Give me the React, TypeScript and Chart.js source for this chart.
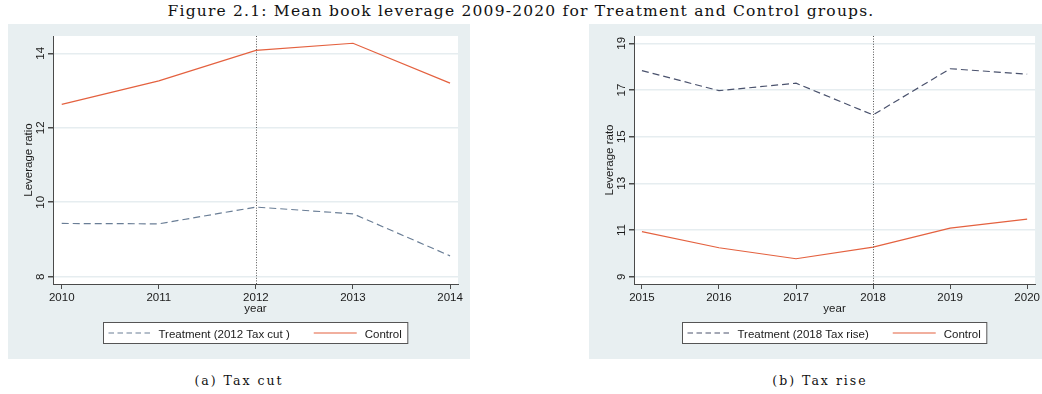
import React, { useEffect, useRef } from "react";
import { Chart, registerables } from "chart.js";

Chart.register(...registerables);

// ---------- data ----------
const cutYears = [2010, 2011, 2012, 2013, 2014];
const cutTreatment = [9.43, 9.42, 9.87, 9.69, 8.56];
const cutControl = [12.63, 13.26, 14.08, 14.27, 13.2];
const cutYTicks = [8, 10, 12, 14];

const riseYears = [2015, 2016, 2017, 2018, 2019, 2020];
const riseTreatment = [17.83, 16.97, 17.29, 15.93, 17.91, 17.68];
const riseControl = [10.93, 10.24, 9.77, 10.27, 11.08, 11.47];
const riseYTicks = [9, 11, 13, 15, 17, 19];

const figureTitle =
  "Figure 2.1: Mean book leverage 2009-2020 for Treatment and Control groups.";

// ---------- styles ----------
const BG = "#e8eff1";
const GRID = "#e6edf0";
const AXIS = "#4a4a4a";
const TEXT = "#1a1a1a";
const CONTROL = "#e4613f";
const SANS = '"Liberation Sans", Arial, Helvetica, sans-serif';
const SERIF = '"DejaVu Serif", "Liberation Serif", serif';
const FS = 11.5;

type PanelProps = {
  years: number[];
  treatment: number[];
  control: number[];
  yTicks: number[];
  xMin: number;
  xMax: number;
  yMin: number;
  yMax: number;
  eventYear: number;
  treatLabel: string;
  treatColor: string;
  yTitle: string;
  width: number;
  height: number;
  rightPad: number;
};

function Panel(p: PanelProps) {
  const ref = useRef<HTMLCanvasElement | null>(null);
  useEffect(() => {
    if (!ref.current) return;
    const panelPlugin = {
      id: "stataPanel",
      beforeDraw(chart: any) {
        const { ctx, chartArea: ca, width, height } = chart;
        ctx.save();
        ctx.fillStyle = BG;
        ctx.fillRect(0, 0, width, height);
        ctx.fillStyle = "#ffffff";
        ctx.fillRect(ca.left, ca.top, ca.right - ca.left, ca.bottom - ca.top);
        ctx.restore();
      },
      afterDraw(chart: any) {
        const { ctx, chartArea: ca } = chart;
        const xs = chart.scales.x;
        const ys = chart.scales.y;
        ctx.save();
        // event line
        const ex = Math.round(xs.getPixelForValue(p.eventYear)) + 0.5;
        ctx.strokeStyle = "#555555";
        ctx.lineWidth = 1;
        ctx.setLineDash([1, 1.6]);
        ctx.beginPath();
        ctx.moveTo(ex, ca.top);
        ctx.lineTo(ex, ca.bottom);
        ctx.stroke();
        ctx.setLineDash([]);

        // y tick labels (rotated)
        ctx.fillStyle = TEXT;
        ctx.font = `${FS}px ${SANS}`;
        ctx.textAlign = "center";
        ctx.textBaseline = "alphabetic";
        for (const v of p.yTicks) {
          const y = ys.getPixelForValue(v);
          ctx.save();
          ctx.translate(ca.left - 9, y);
          ctx.rotate(-Math.PI / 2);
          ctx.fillText(String(v), 0, 0);
          ctx.restore();
        }
        // y title
        ctx.save();
        ctx.translate(ca.left - 21.5, (ca.top + ca.bottom) / 2);
        ctx.rotate(-Math.PI / 2);
        ctx.fillText(p.yTitle, 0, 0);
        ctx.restore();
        // x title
        const cx = (ca.left + ca.right) / 2;
        ctx.fillText("year", cx, ca.bottom + 28);

        // legend
        const w1 = ctx.measureText(p.treatLabel).width;
        const w2 = ctx.measureText("Control").width;
        const W = 5 + 44 + 6 + w1 + 24 + 43 + 8 + w2 + 6;
        const bx = Math.round(cx - W / 2) + 0.5;
        const by = ca.bottom + 38.5;
        const bh = 21;
        ctx.fillStyle = "#ffffff";
        ctx.fillRect(bx, by, W, bh);
        ctx.strokeStyle = "#555555";
        ctx.lineWidth = 1;
        ctx.strokeRect(bx, by, W, bh);
        const my = by + bh / 2;
        // treatment sample
        ctx.strokeStyle = p.treatColor;
        ctx.lineWidth = 1.2;
        ctx.setLineDash([5.5, 3.5]);
        ctx.beginPath();
        ctx.moveTo(bx + 5, my);
        ctx.lineTo(bx + 49, my);
        ctx.stroke();
        ctx.setLineDash([]);
        ctx.fillStyle = TEXT;
        ctx.textAlign = "left";
        ctx.fillText(p.treatLabel, bx + 55, my + 5);
        const x2 = bx + 55 + w1 + 24;
        ctx.strokeStyle = CONTROL;
        ctx.beginPath();
        ctx.moveTo(x2, my);
        ctx.lineTo(x2 + 43, my);
        ctx.stroke();
        ctx.fillText("Control", x2 + 51, my + 5);
        ctx.restore();
      },
    };

    const chart = new Chart(ref.current, {
      type: "line",
      data: {
        datasets: [
          {
            label: p.treatLabel,
            data: p.years.map((x, i) => ({ x, y: p.treatment[i] })),
            borderColor: p.treatColor,
            borderWidth: 1.2,
            borderDash: [7, 4],
            pointRadius: 0,
            tension: 0,
            fill: false,
          },
          {
            label: "Control",
            data: p.years.map((x, i) => ({ x, y: p.control[i] })),
            borderColor: CONTROL,
            borderWidth: 1.2,
            pointRadius: 0,
            tension: 0,
            fill: false,
          },
        ],
      },
      options: {
        animation: false,
        responsive: false,
        events: [],
        layout: { padding: { top: 12, right: p.rightPad, left: 0, bottom: 0 } },
        plugins: {
          legend: { display: false },
          tooltip: { enabled: false },
          title: { display: false },
        },
        scales: {
          x: {
            type: "linear",
            min: p.xMin,
            max: p.xMax,
            afterBuildTicks: (s: any) => {
              s.ticks = p.years.map((v) => ({ value: v }));
            },
            afterFit: (s: any) => {
              s.height = 75;
            },
            grid: {
              drawOnChartArea: false,
              drawTicks: true,
              tickLength: 5,
              tickColor: AXIS,
              lineWidth: 1,
            },
            border: { display: true, color: AXIS, width: 1 },
            ticks: {
              color: TEXT,
              font: { family: SANS, size: FS },
              padding: 2,
              maxRotation: 0,
              minRotation: 0,
              autoSkip: false,
              callback: (v: any) => String(v),
            },
          },
          y: {
            type: "linear",
            min: p.yMin,
            max: p.yMax,
            afterBuildTicks: (s: any) => {
              s.ticks = p.yTicks.map((v) => ({ value: v }));
            },
            afterFit: (s: any) => {
              s.width = 45;
            },
            grid: {
              color: GRID,
              lineWidth: 1.5,
              drawTicks: true,
              tickLength: 5,
              tickColor: AXIS,
            },
            border: { display: true, color: AXIS, width: 1 },
            ticks: { display: false },
          },
        },
      },
      plugins: [panelPlugin],
    } as any);
    return () => chart.destroy();
  }, []);
  return (
    <canvas
      ref={ref}
      width={p.width}
      height={p.height}
      style={{ width: p.width, height: p.height, display: "block" }}
    />
  );
}

const captionStyle: React.CSSProperties = {
  position: "absolute",
  width: 462,
  top: 373,
  textAlign: "center",
  fontFamily: SERIF,
  fontSize: 12.5,
  letterSpacing: 2,
  lineHeight: "16px",
  color: "#111",
  whiteSpace: "nowrap",
};

export default function App() {
  return (
    <div
      style={{
        position: "absolute",
        left: 0,
        top: 0,
        width: 1042,
        height: 394,
        background: "#ffffff",
        overflow: "hidden",
      }}
    >
      <div
        style={{
          position: "absolute",
          left: 0,
          top: 2,
          width: 1042,
          textAlign: "center",
          fontFamily: SERIF,
          fontSize: 15.5,
          letterSpacing: 1.2,
          lineHeight: "19px",
          color: "#111",
          whiteSpace: "nowrap",
        }}
      >
        {figureTitle}
      </div>
      <div style={{ position: "absolute", left: 8, top: 24 }}>
        <Panel
          years={cutYears}
          treatment={cutTreatment}
          control={cutControl}
          yTicks={cutYTicks}
          xMin={2009.91}
          xMax={2014.082}
          yMin={7.804}
          yMax={14.465}
          eventYear={2012}
          treatLabel="Treatment (2012 Tax cut )"
          treatColor="#6a7e96"
          yTitle="Leverage ratio"
          width={462}
          height={335}
          rightPad={12}
        />
      </div>
      <div style={{ position: "absolute", left: 589, top: 24 }}>
        <Panel
          years={riseYears}
          treatment={riseTreatment}
          control={riseControl}
          yTicks={riseYTicks}
          xMin={2014.897}
          xMax={2020.103}
          yMin={8.687}
          yMax={19.313}
          eventYear={2018}
          treatLabel="Treatment (2018 Tax rise)"
          treatColor="#4a526d"
          yTitle="Leverage rato"
          width={453}
          height={335}
          rightPad={3.5}
        />
      </div>
      <div style={{ ...captionStyle, left: 8 }}>(a) Tax cut</div>
      <div style={{ ...captionStyle, left: 589 }}>(b) Tax rise</div>
    </div>
  );
}
